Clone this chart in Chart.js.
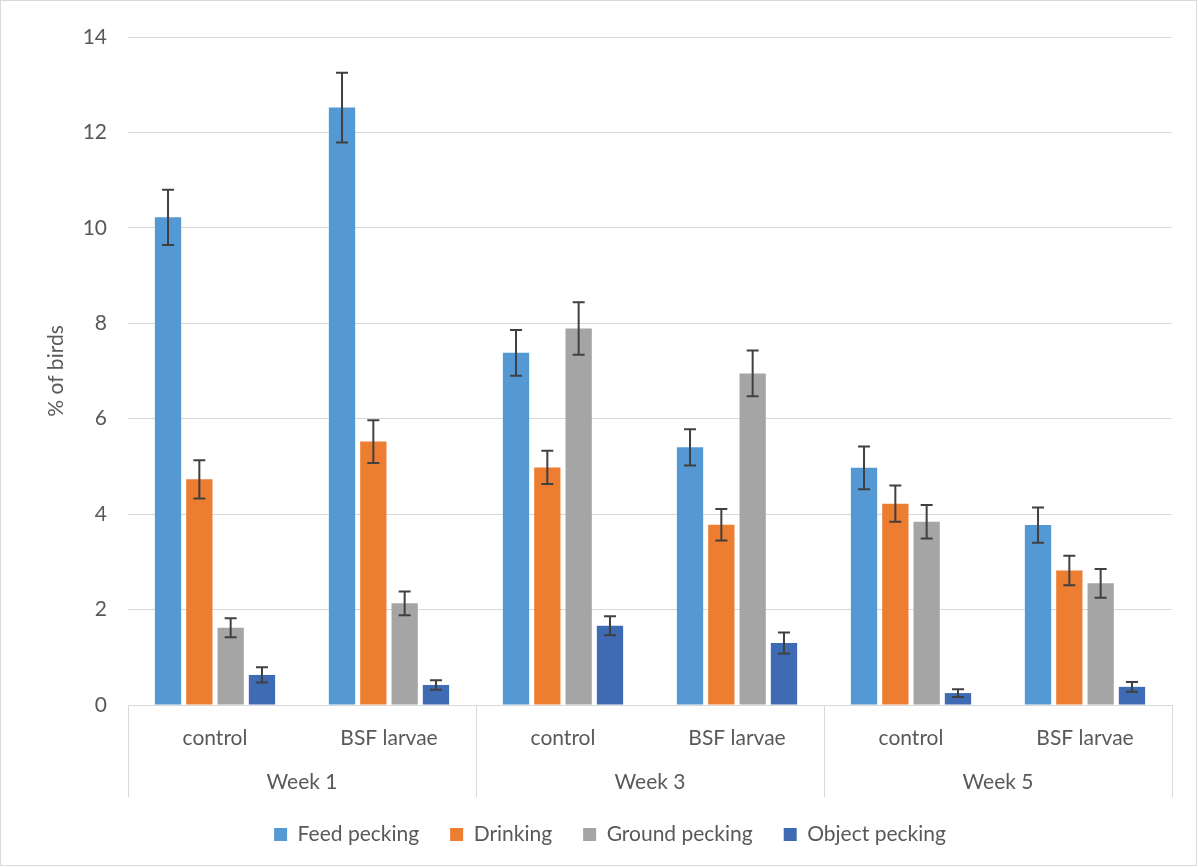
<!DOCTYPE html>
<html lang="en">
<head>
<meta charset="UTF-8">
<title>% of birds</title>
<script src="https://cdn.jsdelivr.net/npm/chart.js"></script>
<style>
    body { margin: 0; padding: 0; background: #ffffff; }
    .wrap { position: relative; width: 1198px; height: 867px; }
</style>
</head>
<body>
<div class="wrap">
    <canvas id="grafico" width="1198" height="867"></canvas>
</div>
<script>
    // datos
    const subLabels = ['control', 'BSF larvae', 'control', 'BSF larvae', 'control', 'BSF larvae'];
    const weeks = ['Week 1', 'Week 3', 'Week 5'];

    const feedPecking   = [10.22, 12.52, 7.38, 5.40, 4.97, 3.77];
    const drinking      = [4.73, 5.52, 4.98, 3.78, 4.22, 2.82];
    const groundPecking = [1.62, 2.13, 7.89, 6.95, 3.84, 2.55];
    const objectPecking = [0.63, 0.42, 1.66, 1.30, 0.25, 0.38];

    const feedErr   = [0.58, 0.73, 0.48, 0.38, 0.45, 0.37];
    const drinkErr  = [0.40, 0.45, 0.35, 0.33, 0.38, 0.31];
    const groundErr = [0.20, 0.25, 0.55, 0.48, 0.35, 0.30];
    const objectErr = [0.16, 0.10, 0.20, 0.22, 0.08, 0.10];

    const yTicks = [0, 2, 4, 6, 8, 10, 12, 14];

    const fuente = 'Lato, "Open Sans", sans-serif';
    const gris = '#595959';

    const errores = [feedErr, drinkErr, groundErr, objectErr];

    const errorBars = {
        id: 'errorBars',
        afterDatasetsDraw(chart) {
            const ctx = chart.ctx;
            const y = chart.scales.y;
            ctx.save();
            ctx.strokeStyle = '#404040';
            ctx.lineWidth = 2;
            chart.data.datasets.forEach((ds, i) => {
                const meta = chart.getDatasetMeta(i);
                meta.data.forEach((bar, j) => {
                    const v = ds.data[j];
                    const e = errores[i][j];
                    const top = y.getPixelForValue(v + e);
                    const bot = y.getPixelForValue(Math.max(v - e, 0));
                    ctx.beginPath();
                    ctx.moveTo(bar.x, top); ctx.lineTo(bar.x, bot);
                    ctx.moveTo(bar.x - 6, top); ctx.lineTo(bar.x + 6, top);
                    ctx.moveTo(bar.x - 6, bot); ctx.lineTo(bar.x + 6, bot);
                    ctx.stroke();
                });
            });
            ctx.restore();
        }
    };

    const semanas = {
        id: 'semanas',
        afterDraw(chart) {
            const ctx = chart.ctx;
            const x = chart.scales.x;
            const bottom = chart.chartArea.bottom;
            ctx.save();
            ctx.strokeStyle = '#d9d9d9';
            ctx.lineWidth = 1;
            for (let i = 0; i <= weeks.length; i++) {
                const px = Math.round(x.getPixelForValue(i * 2 - 0.5)) + 0.5;
                ctx.beginPath();
                ctx.moveTo(px, bottom);
                ctx.lineTo(px, bottom + 92);
                ctx.stroke();
            }
            ctx.fillStyle = gris;
            ctx.font = '21px ' + fuente;
            ctx.textAlign = 'center';
            ctx.textBaseline = 'middle';
            weeks.forEach((w, i) => {
                ctx.fillText(w, x.getPixelForValue(i * 2 + 0.5), bottom + 77);
            });
            // marco exterior
            ctx.strokeStyle = '#d9d9d9';
            ctx.strokeRect(0.5, 0.5, chart.width - 2, chart.height - 2);
            ctx.restore();
        }
    };

    const ctx = document.getElementById('grafico').getContext('2d');
    new Chart(ctx, {
        type: 'bar',
        data: {
            labels: subLabels,
            datasets: [
                { label: 'Feed pecking', data: feedPecking, backgroundColor: '#5499D4' },
                { label: 'Drinking', data: drinking, backgroundColor: '#ED7D31' },
                { label: 'Ground pecking', data: groundPecking, backgroundColor: '#A5A5A5' },
                { label: 'Object pecking', data: objectPecking, backgroundColor: '#3E6BB3' }
            ]
        },
        options: {
            responsive: false,
            animation: false,
            categoryPercentage: 0.72,
            barPercentage: 0.84,
            layout: { padding: { top: 37, right: 0, left: 22, bottom: 12 } },
            scales: {
                x: {
                    grid: { display: false, drawTicks: false },
                    border: { display: true, color: '#d9d9d9' },
                    ticks: { color: gris, font: { family: fuente, size: 21 }, padding: 21, maxRotation: 0 },
                    afterFit(scale) { scale.height = 88; }
                },
                y: {
                    min: 0, max: 14,
                    afterBuildTicks(scale) { scale.ticks = yTicks.map(v => ({ value: v })); },
                    grid: { color: '#d9d9d9', drawTicks: false },
                    border: { display: false },
                    ticks: { color: gris, font: { family: fuente, size: 21 }, padding: 21 },
                    title: { display: true, text: '% of birds', color: gris, font: { family: fuente, size: 21 }, padding: { top: 22, bottom: 0 } },
                    afterFit(scale) { scale.width = 106; }
                },
                // eje vacio a la derecha, solo reserva el margen
                derecha: {
                    position: 'right',
                    display: true,
                    grid: { display: false, drawTicks: false },
                    border: { display: false },
                    ticks: { display: false },
                    afterFit(scale) { scale.width = 26; }
                }
            },
            plugins: {
                legend: {
                    position: 'bottom',
                    labels: { color: gris, font: { family: fuente, size: 21 }, boxWidth: 13, boxHeight: 13, padding: 31 }
                },
                tooltip: { enabled: false }
            }
        },
        plugins: [errorBars, semanas]
    });
</script>
</body>
</html>
